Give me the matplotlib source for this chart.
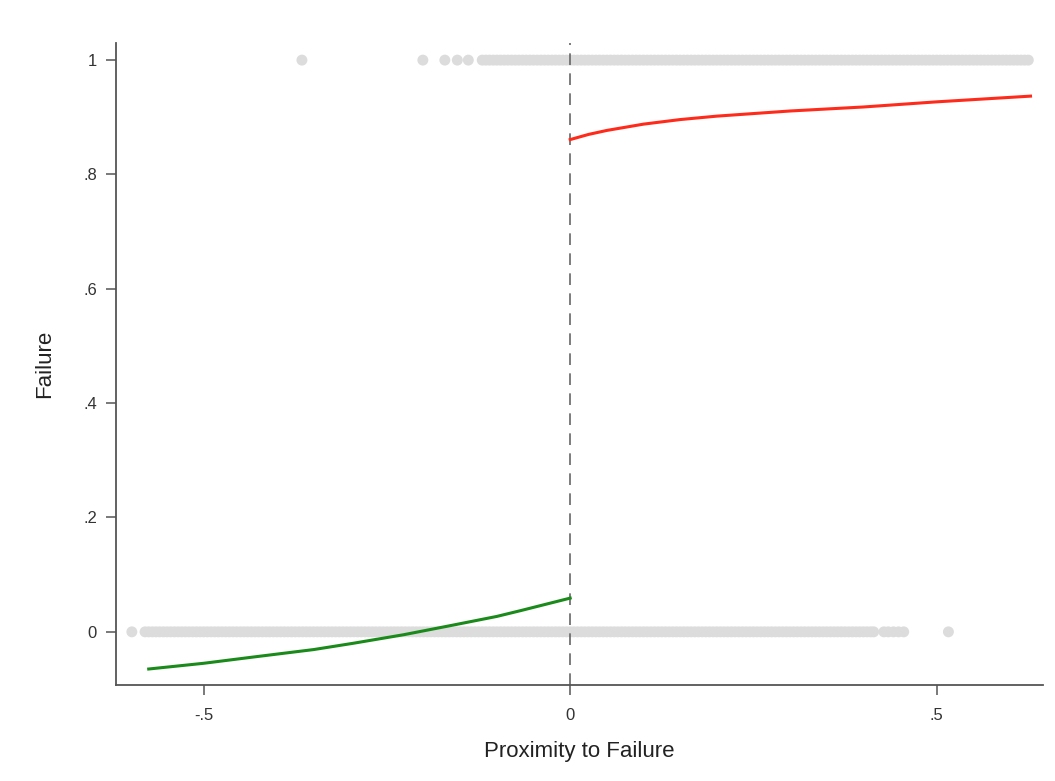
import matplotlib
matplotlib.use("Agg")
import matplotlib.pyplot as plt

# Observed outcomes (grey dots): proximity values of failures (y=1) and non-failures (y=0)
prox_failed = [
    -0.366, -0.201, -0.171, -0.154, -0.139,
    -0.120, -0.115, -0.110, -0.105, -0.100, -0.095, -0.090, -0.085, -0.080, -0.075,
    -0.070, -0.065, -0.060, -0.055, -0.050, -0.045, -0.040, -0.035, -0.030, -0.025,
    -0.020, -0.015, -0.010, -0.005, 0.000, 0.005, 0.010, 0.015, 0.020, 0.025,
    0.030, 0.035, 0.040, 0.045, 0.050, 0.055, 0.060, 0.065, 0.070, 0.075,
    0.080, 0.085, 0.090, 0.095, 0.100, 0.105, 0.110, 0.115, 0.120, 0.125,
    0.130, 0.135, 0.140, 0.145, 0.150, 0.155, 0.160, 0.165, 0.170, 0.175,
    0.180, 0.185, 0.190, 0.195, 0.200, 0.205, 0.210, 0.215, 0.220, 0.225,
    0.230, 0.235, 0.240, 0.245, 0.250, 0.255, 0.260, 0.265, 0.270, 0.275,
    0.280, 0.285, 0.290, 0.295, 0.300, 0.305, 0.310, 0.315, 0.320, 0.325,
    0.330, 0.335, 0.340, 0.345, 0.350, 0.355, 0.360, 0.365, 0.370, 0.375,
    0.380, 0.385, 0.390, 0.395, 0.400, 0.405, 0.410, 0.415, 0.420, 0.425,
    0.430, 0.435, 0.440, 0.445, 0.450, 0.455, 0.460, 0.465, 0.470, 0.475,
    0.480, 0.485, 0.490, 0.495, 0.500, 0.505, 0.510, 0.515, 0.520, 0.525,
    0.530, 0.535, 0.540, 0.545, 0.550, 0.555, 0.560, 0.565, 0.570, 0.575,
    0.580, 0.585, 0.590, 0.595, 0.600, 0.605, 0.610, 0.615, 0.620, 0.625,
]
prox_survived = [
    -0.598,
    -0.580, -0.575, -0.570, -0.565, -0.560, -0.555, -0.550, -0.545, -0.540, -0.535,
    -0.530, -0.525, -0.520, -0.515, -0.510, -0.505, -0.500, -0.495, -0.490, -0.485,
    -0.480, -0.475, -0.470, -0.465, -0.460, -0.455, -0.450, -0.445, -0.440, -0.435,
    -0.430, -0.425, -0.420, -0.415, -0.410, -0.405, -0.400, -0.395, -0.390, -0.385,
    -0.380, -0.375, -0.370, -0.365, -0.360, -0.355, -0.350, -0.345, -0.340, -0.335,
    -0.330, -0.325, -0.320, -0.315, -0.310, -0.305, -0.300, -0.295, -0.290, -0.285,
    -0.280, -0.275, -0.270, -0.265, -0.260, -0.255, -0.250, -0.245, -0.240, -0.235,
    -0.230, -0.225, -0.220, -0.215, -0.210, -0.205, -0.200, -0.195, -0.190, -0.185,
    -0.180, -0.175, -0.170, -0.165, -0.160, -0.155, -0.150, -0.145, -0.140, -0.135,
    -0.130, -0.125, -0.120, -0.115, -0.110, -0.105, -0.100, -0.095, -0.090, -0.085,
    -0.080, -0.075, -0.070, -0.065, -0.060, -0.055, -0.050, -0.045, -0.040, -0.035,
    -0.030, -0.025, -0.020, -0.015, -0.010, -0.005, 0.000, 0.005, 0.010, 0.015,
    0.020, 0.025, 0.030, 0.035, 0.040, 0.045, 0.050, 0.055, 0.060, 0.065,
    0.070, 0.075, 0.080, 0.085, 0.090, 0.095, 0.100, 0.105, 0.110, 0.115,
    0.120, 0.125, 0.130, 0.135, 0.140, 0.145, 0.150, 0.155, 0.160, 0.165,
    0.170, 0.175, 0.180, 0.185, 0.190, 0.195, 0.200, 0.205, 0.210, 0.215,
    0.220, 0.225, 0.230, 0.235, 0.240, 0.245, 0.250, 0.255, 0.260, 0.265,
    0.270, 0.275, 0.280, 0.285, 0.290, 0.295, 0.300, 0.305, 0.310, 0.315,
    0.320, 0.325, 0.330, 0.335, 0.340, 0.345, 0.350, 0.355, 0.360, 0.365,
    0.370, 0.375, 0.380, 0.385, 0.390, 0.395, 0.400, 0.405, 0.410, 0.414,
    0.428, 0.434, 0.441, 0.448, 0.455,
    0.516,
]
failed_value = 1
survived_value = 0

# Fitted curves
left_x = [-0.575, -0.5, -0.432, -0.35, -0.296, -0.227, -0.159, -0.1, -0.068, 0.0]
left_y = [-0.065, -0.055, -0.044, -0.031, -0.020, -0.005, 0.012, 0.027, 0.037, 0.059]
right_x = [0.0, 0.025, 0.05, 0.10, 0.15, 0.20, 0.30, 0.40, 0.50, 0.628]
right_y = [0.861, 0.870, 0.877, 0.888, 0.896, 0.902, 0.911, 0.918, 0.927, 0.937]

xticks = [-0.5, 0, 0.5]
xticklabels = ["-.5", "0", ".5"]
yticks = [0, 0.2, 0.4, 0.6, 0.8, 1]
yticklabels = ["0", ".2", ".4", ".6", ".8", "1"]

plt.rcParams['font.family'] = ['Liberation Sans', 'DejaVu Sans']

fig = plt.figure(figsize=(10.55, 7.81), dpi=100)
ax = fig.add_axes([0.1097, 0.1229, 0.8789, 0.8221])

grey = "#dcdcdc"
ax.scatter(prox_failed, [failed_value] * len(prox_failed), s=62, color=grey,
           edgecolors='none', zorder=1)
ax.scatter(prox_survived, [survived_value] * len(prox_survived), s=62, color=grey,
           edgecolors='none', zorder=1)

ax.plot(left_x, left_y, color="#1a8a1a", lw=2.2, zorder=3)
ax.plot(right_x, right_y, color="#ff2a1a", lw=2.2, zorder=3)

ax.axvline(0, color="#666666", lw=1.2, dashes=(7, 5), zorder=2)

ax.set_xlim(-0.620, 0.645)
ax.set_ylim(-0.093, 1.030)

ax.set_xticks(xticks)
ax.set_xticklabels(xticklabels)
ax.set_yticks(yticks)
ax.set_yticklabels(yticklabels)

for side in ["top", "right"]:
    ax.spines[side].set_visible(False)
for side in ["left", "bottom"]:
    ax.spines[side].set_color("#555555")
    ax.spines[side].set_linewidth(1.3)

ax.tick_params(axis='both', direction='out', length=7.5, width=1.1, color="#555555",
               labelsize=12, labelcolor="#333333", pad=6)
ax.tick_params(axis='x', pad=9)

ax.set_xlabel("Proximity to Failure", fontsize=16, color="#222222", labelpad=13)
ax.set_ylabel("Failure", fontsize=16, color="#222222", labelpad=20)

fig.savefig("out.png", dpi=100)
